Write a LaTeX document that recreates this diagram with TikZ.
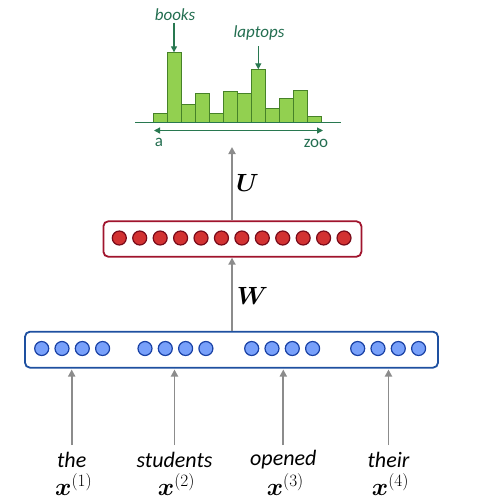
\documentclass[tikz,border=0pt]{standalone}
\usepackage{amsmath,amssymb,bm}
\usepackage{fontspec}
\setmainfont{Carlito}
\usetikzlibrary{arrows.meta}
\definecolor{barfill}{RGB}{146,208,80}
\definecolor{barline}{RGB}{70,130,40}
\definecolor{axisgreen}{RGB}{40,120,80}
\definecolor{labgreen}{RGB}{35,110,80}
\definecolor{redfill}{RGB}{210,50,50}
\definecolor{redline}{RGB}{120,10,25}
\definecolor{redbox}{RGB}{160,20,45}
\definecolor{bluefill}{RGB}{120,160,250}
\definecolor{blueline}{RGB}{25,65,165}
\definecolor{bluebox}{RGB}{30,80,160}
\definecolor{arrgrey}{RGB}{140,140,140}
\tikzset{
  bar/.style={draw=barline, fill=barfill, line width=1pt},
  redneuron/.style={circle, draw=redline, fill=redfill, line width=1.2pt, minimum size=14pt, inner sep=0pt},
  blueneuron/.style={circle, draw=blueline, fill=bluefill, line width=1.2pt, minimum size=14pt, inner sep=0pt},
  layerbox/.style={rounded corners=5pt, line width=1.8pt, fill=white},
  uparrow/.style={draw=arrgrey, line width=1.8pt, -{Triangle[length=7pt,width=7pt]}},
  greenarrow/.style={draw=axisgreen, line width=1.3pt, -{Triangle[length=6pt,width=6pt]}},
  word/.style={font=\fontsize{22}{24}\selectfont\itshape, inner sep=0pt},
  vec/.style={font=\fontsize{26}{28}\selectfont, inner sep=0pt},
  histlab/.style={font=\fontsize{17}{19}\selectfont\itshape, text=labgreen, inner sep=0pt},
  axlab/.style={font=\fontsize{17}{19}\selectfont, text=labgreen, inner sep=0pt},
  matlab/.style={font=\fontsize{24}{26}\selectfont, inner sep=0pt}
}
\begin{document}
\begin{tikzpicture}[x=1pt,y=-1pt]
\useasboundingbox (0,0) rectangle (500,501);
% histogram
\foreach \i/\t in {0/113.3,1/52.3,2/104,3/93.3,4/113.3,5/91,6/93.3,7/69.3,8/108.7,9/98.3,10/90,11/116.3}{
  \draw[bar] ({153.3+14*\i},122.5) rectangle ({167.3+14*\i},\t);
}
\coordinate (axL) at (135,122.5);
\coordinate (axR) at (341,122.5);
\draw[draw=axisgreen, line width=1.5pt] (axL) -- (axR);
\coordinate (dL) at (154,130.5);
\coordinate (dR) at (323,130.5);
\draw[draw=axisgreen, line width=1.3pt, {Triangle[length=6pt,width=6pt]}-{Triangle[length=6pt,width=6pt]}] (dL) -- (dR);
\node[axlab] (la) at (159,142.5) {a};
\node[axlab] (lzoo) at (316,143) {zoo};
\node[histlab] (books) at (175,14.5) {books};
\node[histlab] (laptops) at (259,33) {laptops};
\coordinate (booksTop) at (174,52.3);
\coordinate (lapTop) at (258.3,69.3);
\coordinate (booksBot) at (174,22.5);
\coordinate (lapBot) at (258.3,46);
\draw[greenarrow] (booksBot) -- (booksTop);
\draw[greenarrow] (lapBot) -- (lapTop);
% red hidden layer
\node[layerbox, draw=redbox, minimum width=258pt, minimum height=35.5pt] (hid) at (232.4,239) {};
\foreach \i in {0,...,11}{
  \node[redneuron] (h\i) at ({119.3+20.43*\i},238) {};
}
% blue input layer
\node[layerbox, draw=bluebox, minimum width=413pt, minimum height=36pt] (inp) at (231.5,349.7) {};
\foreach \g/\x in {1/41.7,2/145,3/251.7,4/357.7}{
  \foreach \j in {0,...,3}{
    \node[blueneuron] (e\g\j) at ({\x+20.3*\j},348.5) {};
  }
}
% top output
\coordinate (histbase) at (232,147);
\draw[uparrow] (hid.north -| 232,0) -- (histbase);
\node[matlab] (U) at (247.5,182.5) {$\boldsymbol{U}$};
\draw[uparrow] (inp.north -| 232,0) -- (hid.south -| 232,0);
\node[matlab] (W) at (252.5,296) {$\boldsymbol{W}$};
% inputs
\foreach \k/\x/\w in {1/71.7/the,2/174.5/students,3/283.3/opened,4/388.5/their}{
  \node[word] (w\k) at (\x,460) {\w};
  \node[vec] (x\k) at (\x+2,485) {$\boldsymbol{x}^{(\k)}$};
  \coordinate (a\k) at (\x,445);
  \draw[uparrow] (a\k) -- (\x,369.5);
}
\end{tikzpicture}
\end{document}
